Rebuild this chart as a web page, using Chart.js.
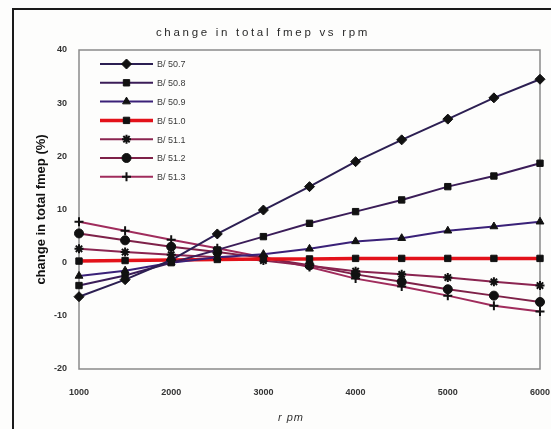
<!DOCTYPE html>
<html>
<head>
<meta charset="utf-8">
<script src="https://cdn.jsdelivr.net/npm/chart.js@4/dist/chart.umd.min.js"></script>
<style>
  html, body { margin: 0; padding: 0; background: #fdfdfc; }
  #wrap { width: 551px; height: 429px; position: relative; }
</style>
</head>
<body>
<div id="wrap"><canvas id="fmepChart" width="551" height="429"></canvas></div>
<script>
// data
const rpm = [1000, 1500, 2000, 2500, 3000, 3500, 4000, 4500, 5000, 5500, 6000];
const seriesLabels = ['B/ 50.7', 'B/ 50.8', 'B/ 50.9', 'B/ 51.0', 'B/ 51.1', 'B/ 51.2', 'B/ 51.3'];
const b507 = [-6.4, -3.2, 0.5, 5.4, 9.9, 14.3, 19.0, 23.1, 27.0, 31.0, 34.5];
const b508 = [-4.3, -2.4, 0.0, 2.4, 4.9, 7.4, 9.6, 11.8, 14.3, 16.3, 18.7];
const b509 = [-2.5, -1.5, 0.0, 1.0, 1.6, 2.6, 4.0, 4.6, 6.0, 6.8, 7.7];
const b510 = [0.3, 0.4, 0.5, 0.6, 0.7, 0.7, 0.8, 0.8, 0.8, 0.8, 0.8];
const b511 = [2.6, 2.0, 1.5, 1.0, 0.4, -0.6, -1.6, -2.2, -2.8, -3.6, -4.3];
const b512 = [5.5, 4.2, 3.0, 2.0, 0.9, -0.5, -2.2, -3.6, -5.0, -6.2, -7.4];
const b513 = [7.7, 6.0, 4.3, 2.7, 1.0, -0.8, -3.0, -4.5, -6.2, -8.1, -9.2];
const yTicks = { min: -20, max: 40, step: 10 };
const xTicks = { min: 1000, max: 6000, step: 1000 };

const allSeries = [b507, b508, b509, b510, b511, b512, b513];
const lineColors = ['#2c1f52', '#3b1d58', '#3a2178', '#e3121a', '#8a2450', '#7e2148', '#a02c5c'];
const markers = ['rectRot', 'rect', 'triangle', 'rect', 'star', 'circle', 'cross'];

const tickFont = { family: '"Liberation Sans Narrow", "Liberation Sans", Arial, sans-serif', size: 9, weight: 'bold' };

// page frame, titles and plot border
const framePlugin = {
    id: 'frame',
    beforeDraw(chart) {
        const ctx = chart.ctx;
        ctx.save();
        ctx.fillStyle = '#fdfdfc';
        ctx.fillRect(0, 0, chart.width, chart.height);
        ctx.strokeStyle = '#1a1a1a';
        ctx.lineWidth = 2;
        ctx.beginPath();
        ctx.moveTo(13, chart.height);
        ctx.lineTo(13, 9);
        ctx.lineTo(chart.width, 9);
        ctx.stroke();
        ctx.restore();
    },
    beforeDatasetsDraw(chart) {
        const ctx = chart.ctx;
        const a = chart.chartArea;
        ctx.save();
        ctx.strokeStyle = '#8a8a8a';
        ctx.lineWidth = 1.5;
        ctx.strokeRect(a.left, a.top, a.right - a.left, a.bottom - a.top);
        ctx.textAlign = 'center';
        ctx.textBaseline = 'middle';
        // title with wide letter spacing
        ctx.fillStyle = '#2a2a2a';
        ctx.font = '11.5px "Liberation Sans", Arial, sans-serif';
        ctx.letterSpacing = '2.7px';
        ctx.fillText('change in total fmep vs rpm', 263, 33);
        // x axis title
        ctx.fillStyle = '#333';
        ctx.font = 'italic 11px "Liberation Sans", Arial, sans-serif';
        ctx.letterSpacing = '1px';
        ctx.fillText('r pm', 291, 418);
        ctx.restore();
    }
};

// legend drawn inside the plot: line + marker + label
const innerLegend = {
    id: 'innerLegend',
    afterDatasetsDraw(chart) {
        const ctx = chart.ctx;
        const a = chart.chartArea;
        ctx.save();
        chart.data.datasets.forEach((ds, i) => {
            const y = a.top + 14 + i * 18.8;
            const x0 = a.left + 21, x1 = a.left + 74;
            ctx.strokeStyle = ds.borderColor;
            ctx.lineWidth = ds.borderWidth;
            ctx.beginPath();
            ctx.moveTo(x0, y);
            ctx.lineTo(x1, y);
            ctx.stroke();
            ctx.fillStyle = '#111';
            ctx.strokeStyle = '#111';
            ctx.lineWidth = ds.pointBorderWidth;
            Chart.helpers.drawPoint(ctx, {
                pointStyle: ds.pointStyle,
                radius: ds.pointRadius,
                rotation: 0,
                borderWidth: ds.pointBorderWidth
            }, (x0 + x1) / 2, y);
            ctx.fillStyle = '#3a3a3a';
            ctx.font = '9px "Liberation Sans Narrow", "Liberation Sans", Arial, sans-serif';
            ctx.textAlign = 'left';
            ctx.textBaseline = 'middle';
            ctx.fillText(ds.label, x1 + 4, y + 1);
        });
        ctx.restore();
    }
};

const datasets = allSeries.map((vals, i) => ({
    label: seriesLabels[i],
    data: vals.map((v, j) => ({ x: rpm[j], y: v })),
    borderColor: lineColors[i],
    borderWidth: i === 3 ? 3.5 : 2,
    pointStyle: markers[i],
    pointRadius: markers[i] === 'rectRot' ? 5 : 4.5,
    pointBackgroundColor: '#111',
    pointBorderColor: '#111',
    pointBorderWidth: markers[i] === 'star' || markers[i] === 'cross' ? 2 : 1,
    tension: 0,
    clip: false
}));

new Chart(document.getElementById('fmepChart'), {
    type: 'line',
    data: { datasets },
    options: {
        responsive: false,
        animation: false,
        layout: { padding: { top: 50, right: 0, bottom: 0, left: 0 } },
        plugins: {
            legend: { display: false },
            title: { display: false },
            tooltip: { enabled: false }
        },
        scales: {
            x: {
                type: 'linear',
                min: xTicks.min,
                max: xTicks.max,
                grid: { display: false, drawTicks: false },
                border: { display: false },
                ticks: {
                    stepSize: xTicks.step, padding: 18, color: '#333', font: tickFont, maxRotation: 0,
                    callback: v => String(v)
                },
                afterFit(scale) {
                    scale.height = 60;
                    scale.paddingLeft = 0;
                    scale.paddingRight = 11;
                }
            },
            y: {
                min: yTicks.min,
                max: yTicks.max,
                grid: { display: false, drawTicks: false },
                border: { display: false },
                ticks: { stepSize: yTicks.step, padding: 12, color: '#333', font: tickFont },
                title: {
                    display: true,
                    text: 'change in total fmep (%)',
                    color: '#111',
                    font: { family: '"Liberation Sans", Arial, sans-serif', size: 13, weight: 'bold' },
                    padding: { top: 34, bottom: 0 }
                },
                afterFit(scale) { scale.width = 79; }
            }
        }
    },
    plugins: [framePlugin, innerLegend]
});
</script>
</body>
</html>
